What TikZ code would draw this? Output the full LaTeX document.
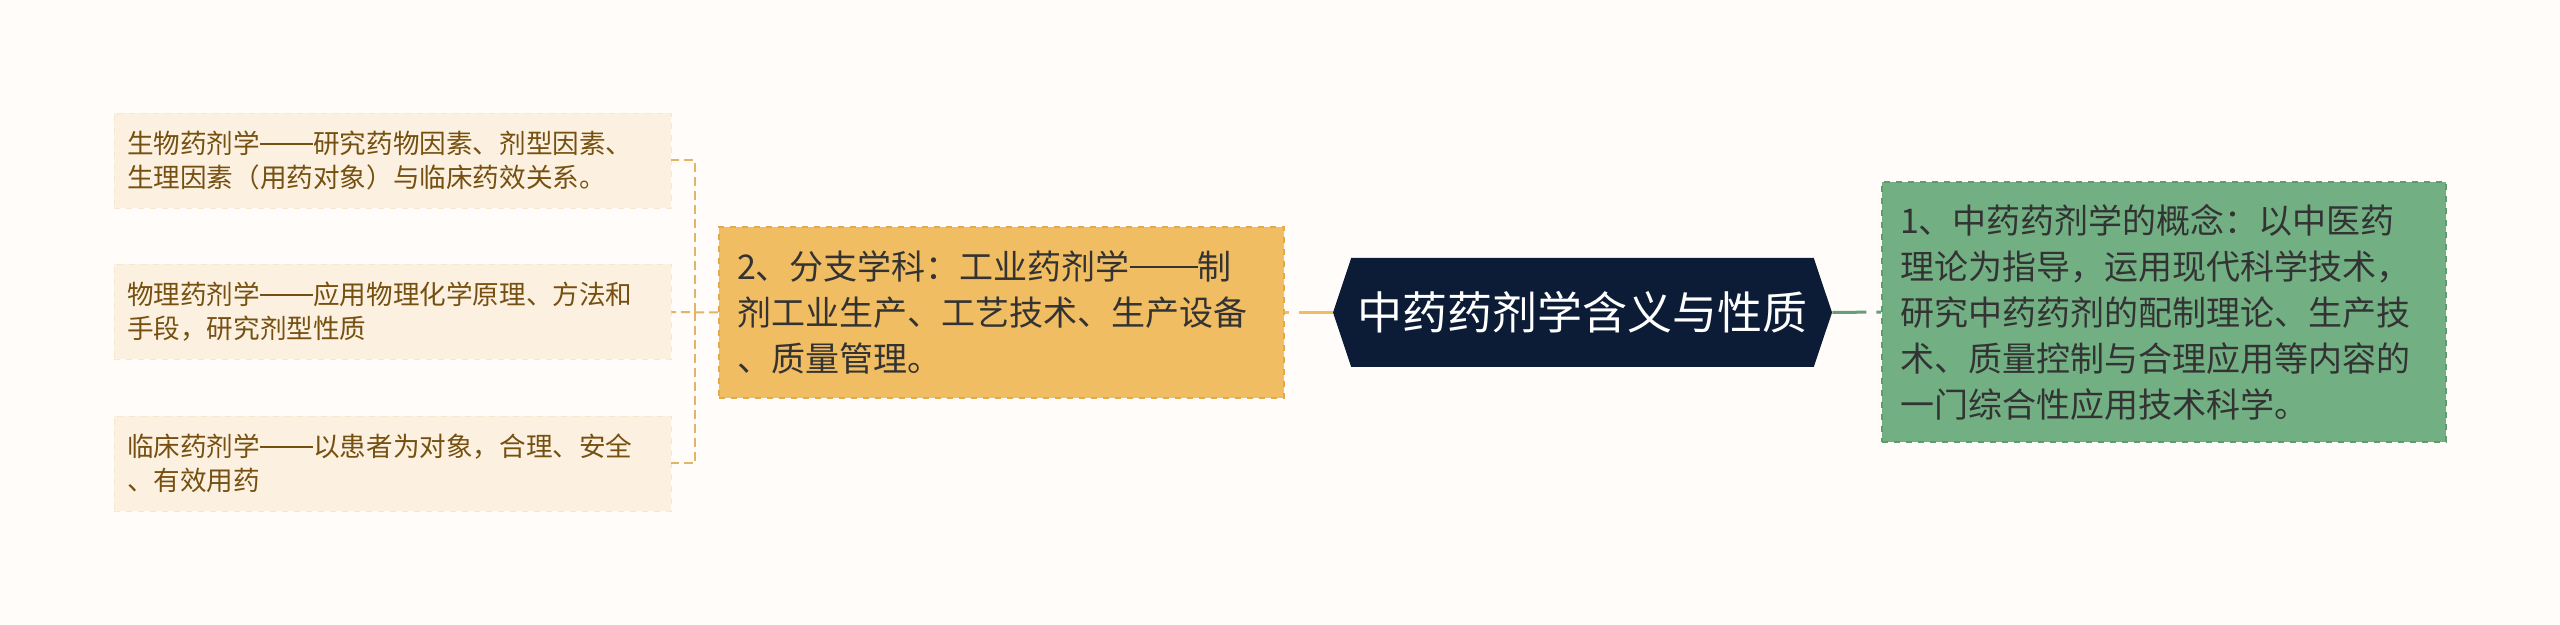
\documentclass[tikz,border=0pt]{standalone}
\usepackage{fontspec}
\setmainfont{Noto Sans CJK SC}
\newcommand\longdash{\rule[0.33em]{2em}{0.06em}}
\usetikzlibrary{shapes.symbols}
\definecolor{bg}{HTML}{FFFCFA}
\definecolor{leaffill}{HTML}{FCF1E1}
\definecolor{leafline}{HTML}{F7E7CF}
\definecolor{leaftext}{HTML}{765010}
\definecolor{orangefill}{HTML}{F1BD62}
\definecolor{orangeline}{HTML}{E3AA4C}
\definecolor{greenfill}{HTML}{72B084}
\definecolor{greenline}{HTML}{5E9C70}
\definecolor{navy}{HTML}{0C1C36}
\definecolor{bracket}{HTML}{E2B466}

\begin{document}
\begin{tikzpicture}[x=0.5pt, y=-0.5pt,
  leaf/.style={fill=leaffill, draw=leafline, dashed, text=leaftext,
    font=\fontsize{13.3}{17}\selectfont, align=left, text width=265.5pt,
    inner xsep=6.5pt, minimum height=47.5pt},
  topic/.style={draw, dashed, line width=0.8pt, text=black!80,
    font=\fontsize{17}{23}\selectfont, align=left, inner xsep=9pt},
  root/.style={signal, signal to=east and west, signal pointer angle=143,
    fill=navy, text=white, font=\fontsize{22.5}{27}\selectfont,
    minimum width=249.5pt, minimum height=54.5pt, inner sep=0pt},
  branch/.style={line width=1.5pt, dash pattern=on 17pt off 5pt},
  fork/.style={bracket, line width=1pt, dash pattern=on 4.5pt off 2.5pt}]
  \fill[bg] (0,0) rectangle (2560,625);
  \node[root] (root) at (1582.5,312.5) {中药药剂学含义与性质};
  \node[topic, fill=orangefill, draw=orangeline, text width=264.5pt, minimum height=85.5pt]
    (sub) at (1001.5,312.5) {2、分支学科：工业药剂学\longdash 制\\剂工业生产、工艺技术、生产设备\\、质量管理。};
  \node[topic, fill=greenfill, draw=greenline, text width=264pt, minimum height=130pt]
    (def) at (2164,312) {1、中药药剂学的概念：以中医药\\理论为指导，运用现代科学技术，\\研究中药药剂的配制理论、生产技\\术、质量控制与合理应用等内容的\\一门综合性应用技术科学。};
  \node[leaf] (bio) at (392.5,160.5) {生物药剂学\longdash 研究药物因素、剂型因素、\\生理因素（用药对象）与临床药效关系。};
  \node[leaf] (phys) at (392.5,312) {物理药剂学\longdash 应用物理化学原理、方法和\\手段，研究剂型性质};
  \node[leaf] (clin) at (392.5,463.5) {临床药剂学\longdash 以患者为对象，合理、安全\\、有效用药};
  \coordinate (split) at (695,312);
  \draw[branch, orangefill] (root.west)--(sub.east);
  \draw[branch, greenfill!90!black] (root.east)--(def.west);
  \draw[fork] (sub.west)--(phys.east);
  \draw[fork] (split) |- (bio.east);
  \draw[fork] (split) |- (clin.east);
\end{tikzpicture}
\end{document}
